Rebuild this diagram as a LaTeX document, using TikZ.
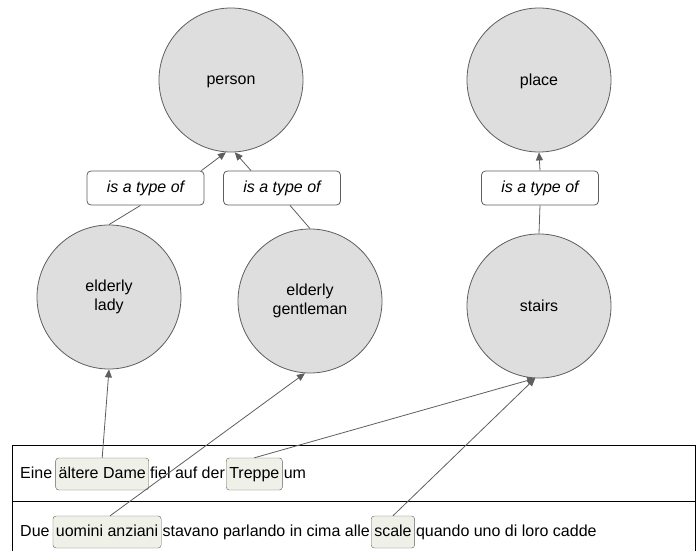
\documentclass[tikz,border=0pt]{standalone}
\usepackage{fontspec}
\setmainfont{Liberation Sans}
\usepackage{tikz}
\usetikzlibrary{positioning,arrows.meta}
\definecolor{linegray}{HTML}{5E5E5E}
\definecolor{circfill}{HTML}{DEDEDE}
\definecolor{hlfill}{HTML}{EFF1E9}
\tikzset{
  concept/.style={draw=linegray, thick, circle, fill=circfill, minimum size=144pt, inner sep=0pt, align=center},
  typebox/.style={draw=linegray, thick, rounded corners=4pt, fill=white, minimum width=117pt, minimum height=34pt, font=\fontsize{16}{19}\selectfont\itshape},
  link/.style={draw=linegray, thick},
  typearrow/.style={link, -{Triangle[length=8pt, width=7pt]}},
  word/.style={inner xsep=0pt, inner ysep=0pt, text height=11.5pt, text depth=3.5pt},
  hlword/.style={draw=linegray, fill=hlfill, rounded corners=3pt, inner xsep=3pt, inner ysep=8.5pt, text height=11.5pt, text depth=3.5pt}
}

\begin{document}
\begin{tikzpicture}[x=1pt, y=-1pt, every node/.style={font=\fontsize{16}{19}\selectfont}]
      \useasboundingbox (0,0) rectangle (697,551);
      % concepts
      \node[concept, text depth=0pt] (person) at (231,80) {person};
      \node[concept, text depth=0pt] (place) at (539,80) {place};
      \node[concept] (lady) at (109,297) {elderly\\lady};
      \node[concept] (gent) at (310,301) {elderly\\gentleman};
      \node[concept] (stairs) at (539,306) {stairs};
      \node[typebox] (type1) at (145.5,188) {is a type of};
      \node[typebox] (type2) at (282,188) {is a type of};
      \node[typebox] (type3) at (540,188) {is a type of};
      \draw[link] (lady.north) -- ([xshift=-5pt]type1.south);
      \draw[typearrow] ([xshift=-3pt]type1.north east) -- (person.-94);
      \draw[link] (gent.north) -- ([xshift=8pt]type2.south);
      \draw[typearrow] ([xshift=-31pt]type2.north) -- (person.-87);
      \draw[link] (stairs.north) -- (type3.south);
      \draw[typearrow] (type3.north) -- (place.south);
      % sentences
      \draw[black, thick] (12,551) -- (12,445) -- (695,445) -- (695,551);
      \draw[black, thick] (12,501) -- (695,501);
      \node[word, anchor=base west] (eine) at (20,478) {Eine};
      \node[hlword, base right=3pt of eine] (dame) {ältere Dame};
      \node[word, base right=1pt of dame] (fiel) {fiel auf der};
      \node[hlword, base right=1pt of fiel] (treppe) {Treppe};
      \node[word, base right=1pt of treppe] (um) {um};
      \node[word, anchor=base west] (due) at (20,536) {Due};
      \node[hlword, base right=3pt of due] (uomini) {uomini anziani};
      \node[word, base right=1pt of uomini] (stavano) {stavano parlando in cima alle};
      \node[hlword, base right=1pt of stavano] (scale) {scale};
      \node[word, base right=1pt of scale] (quando) {quando uno di loro cadde};
      \draw[typearrow] (dame.north) -- (lady.south);
      \draw[typearrow] ([xshift=3pt]uomini.north) -- (gent.-94);
      \draw[typearrow] (treppe.north) -- (stairs.-93);
      \draw[typearrow] (scale.north) -- (stairs.-93);
\end{tikzpicture}
\end{document}
